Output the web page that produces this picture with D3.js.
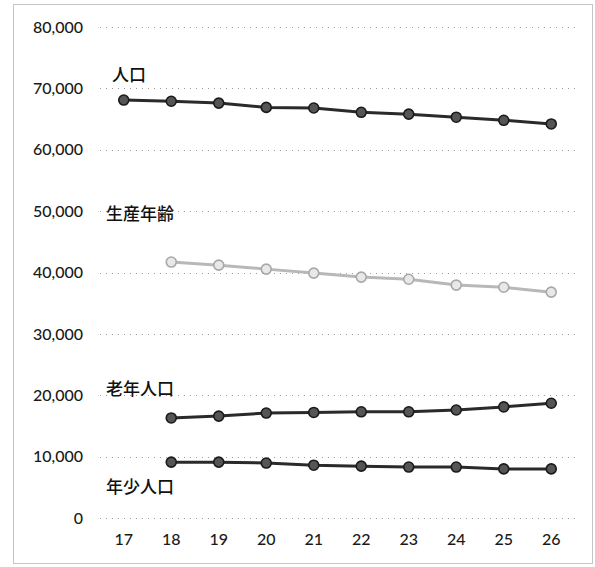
<!DOCTYPE html>
<html>
<head>
<meta charset="utf-8">
<script src="https://cdn.jsdelivr.net/npm/d3@7"></script>
<style>
  html, body { margin: 0; padding: 0; background: #fff; }
  svg { display: block; }
</style>
</head>
<body>
<svg id="chart" width="595" height="567"></svg>
<script>
// Years (Heisei) on the x axis
const years = ["17", "18", "19", "20", "21", "22", "23", "24", "25", "26"];

// Population series (persons); null where no figure exists
const total      = [68100, 67900, 67600, 66900, 66800, 66100, 65800, 65300, 64800, 64200];
const working    = [null, 41700, 41200, 40550, 39900, 39250, 38900, 37950, 37600, 36800];
const elderly    = [null, 16300, 16600, 17100, 17200, 17300, 17300, 17600, 18100, 18700];
const children   = [null, 9100, 9100, 8950, 8600, 8450, 8300, 8300, 8000, 8000];

// Y axis ticks
const yTicks = [0, 10000, 20000, 30000, 40000, 50000, 60000, 70000, 80000];

const seriesNames = ["人口", "生産年齢", "老年人口", "年少人口"];
const seriesValues = [total, working, elderly, children];
const lineColors = ["#2a2a2a", "#b8b8b8", "#2a2a2a", "#2a2a2a"];
const markerFill = ["#555", "#e8e8e8", "#555", "#555"];
// value at which each series name sits
const labelAt = [72000, 49300, 20800, 4900];

const svg = d3.select("#chart");
const W = 595, H = 567;
const margin = { left: 100, right: 20, top: 27, bottom: 49 };

// frame
svg.append("rect")
  .attr("x", 13.5).attr("y", 4.5)
  .attr("width", W - 16).attr("height", H - 8)
  .attr("fill", "none")
  .attr("stroke", "#8a8a8a")
  .attr("stroke-width", 1)
  .attr("stroke-dasharray", "1,1");

const x = d3.scaleBand()
  .domain(years)
  .range([margin.left, W - margin.right]);

const y = d3.scaleLinear()
  .domain([0, 80000])
  .range([H - margin.bottom, margin.top]);

// gridlines
svg.append("g")
  .selectAll("line")
  .data(yTicks)
  .join("line")
  .attr("x1", margin.left).attr("x2", W - margin.right)
  .attr("y1", d => Math.round(y(d)) + 0.5)
  .attr("y2", d => Math.round(y(d)) + 0.5)
  .attr("stroke", "#9c9c9c")
  .attr("stroke-width", 1)
  .attr("stroke-dasharray", "1,5");

// y axis labels
const yAxis = d3.axisLeft(y)
  .tickValues(yTicks)
  .tickFormat(d3.format(","))
  .tickSize(0)
  .tickPadding(0);
const gy = svg.append("g")
  .attr("transform", `translate(83,0)`)
  .call(yAxis);
gy.select(".domain").remove();
gy.selectAll("text")
  .attr("font-family", "Lato, 'Open Sans', sans-serif")
  .attr("font-size", 16)
  .attr("font-weight", 500)
  .attr("fill", "#1a1a1a");

// x axis labels
const xAxis = d3.axisBottom(x).tickSize(0).tickPadding(0);
const gx = svg.append("g")
  .attr("transform", `translate(0,${H - 33})`)
  .call(xAxis);
gx.select(".domain").remove();
gx.selectAll("text")
  .attr("font-family", "Lato, 'Open Sans', sans-serif")
  .attr("font-size", 16)
  .attr("font-weight", 500)
  .attr("fill", "#1a1a1a");

const cx = d => x(d) + x.bandwidth() / 2;

const line = d3.line()
  .defined(d => d.v !== null)
  .x(d => cx(d.year))
  .y(d => y(d.v));

seriesValues.forEach((vals, i) => {
  const pts = years.map((yr, j) => ({ year: yr, v: vals[j] }));
  const g = svg.append("g");
  g.append("path")
    .datum(pts)
    .attr("d", line)
    .attr("fill", "none")
    .attr("stroke", lineColors[i])
    .attr("stroke-width", 3);
  g.selectAll("circle")
    .data(pts.filter(d => d.v !== null))
    .join("circle")
    .attr("cx", d => cx(d.year))
    .attr("cy", d => y(d.v))
    .attr("r", 5)
    .attr("fill", markerFill[i])
    .attr("stroke", i === 1 ? "#a8a8a8" : "#1a1a1a")
    .attr("stroke-width", 1.6);
});

// series names
svg.append("g")
  .selectAll("text")
  .data(seriesNames)
  .join("text")
  .attr("x", (d, i) => i === 0 ? 112 : 106)
  .attr("y", (d, i) => y(labelAt[i]))
  .attr("dominant-baseline", "middle")
  .attr("font-family", "'Noto Sans CJK JP', sans-serif")
  .attr("font-size", 17)
  .attr("font-weight", 500)
  .attr("fill", "#111")
  .text(d => d);
</script>
</body>
</html>
